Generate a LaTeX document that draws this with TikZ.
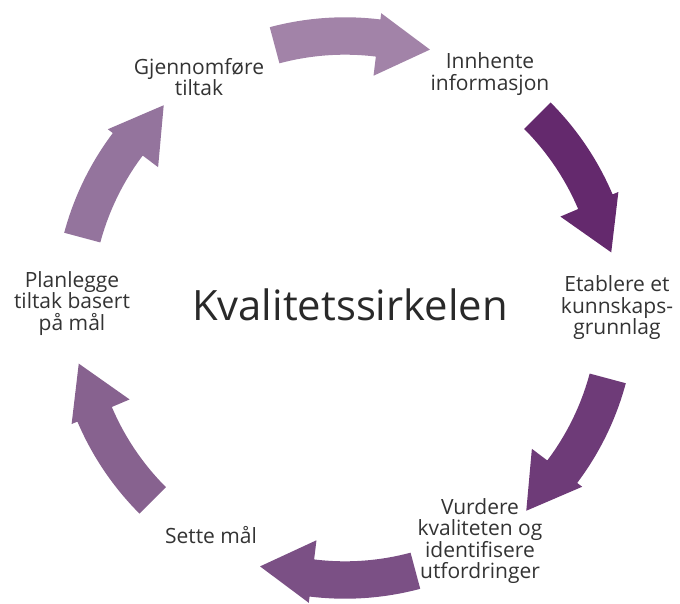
\documentclass[tikz,border=0pt]{standalone}
\usepackage{fontspec}
\setmainfont{Open Sans}
\definecolor{pilA}{HTML}{A283A8}
\definecolor{pilB}{HTML}{64296D}
\definecolor{pilC}{HTML}{6E3B78}
\definecolor{pilD}{HTML}{7B5085}
\definecolor{pilE}{HTML}{87628F}
\definecolor{pilF}{HTML}{94749D}
\definecolor{tekstgraa}{HTML}{333333}
\tikzset{
  etikett/.style={align=center, text=tekstgraa, inner sep=0pt,
    font=\fontsize{21}{21.5}\selectfont},
  tittel/.style={text=tekstgraa!80!black, inner sep=0pt,
    font=\fontsize{41.8}{48}\selectfont},
}
\begin{document}
\begin{tikzpicture}[x=1pt,y=1pt]
\useasboundingbox (-345,-295) rectangle (335,308);
% pilene rundt sirkelen
\fill [pilA] (105:290.7) arc [start angle=105, end angle=83, radius=290.7pt] -- (83:297) -- (71.8:272) -- (83:234) -- (83:253.3) arc [start angle=83, end angle=105, radius=253.3pt] -- cycle;
\fill [pilB] (45:290.7) arc [start angle=45, end angle=23, radius=290.7pt] -- (23:297) -- (11.8:272) -- (23:234) -- (23:253.3) arc [start angle=23, end angle=45, radius=253.3pt] -- cycle;
\fill [pilC] (-15:290.7) arc [start angle=-15, end angle=-37, radius=290.7pt] -- (-37:297) -- (-48.2:272) -- (-37:234) -- (-37:253.3) arc [start angle=-37, end angle=-15, radius=253.3pt] -- cycle;
\fill [pilD] (-75:290.7) arc [start angle=-75, end angle=-97, radius=290.7pt] -- (-97:297) -- (-108.2:272) -- (-97:234) -- (-97:253.3) arc [start angle=-97, end angle=-75, radius=253.3pt] -- cycle;
\fill [pilE] (-135:290.7) arc [start angle=-135, end angle=-157, radius=290.7pt] -- (-157:297) -- (-168.2:272) -- (-157:234) -- (-157:253.3) arc [start angle=-157, end angle=-135, radius=253.3pt] -- cycle;
\fill [pilF] (165:290.7) arc [start angle=165, end angle=143, radius=290.7pt] -- (143:297) -- (131.8:272) -- (143:234) -- (143:253.3) arc [start angle=143, end angle=165, radius=253.3pt] -- cycle;
% tekstene
\node [tittel, anchor=base] (sirkel) at (5,-12) {Kvalitetssirkelen};
\node [etikett] (innhente) at (145,234) {Innhente\\informasjon};
\node [etikett] (etablere) at (272,0) {Etablere et\\kunnskaps-\\grunnlag};
\node [etikett] (vurdere) at (135,-233) {Vurdere\\kvaliteten og\\identifisere\\utfordringer};
\node [etikett] (sette) at (-134,-227) {Sette mål};
\node [etikett] (planlegge) at (-273,4.5) {Planlegge\\tiltak basert\\på mål};
\node [etikett] (gjennomfore) at (-146,231) {Gjennomføre\\tiltak};
\end{tikzpicture}
\end{document}
